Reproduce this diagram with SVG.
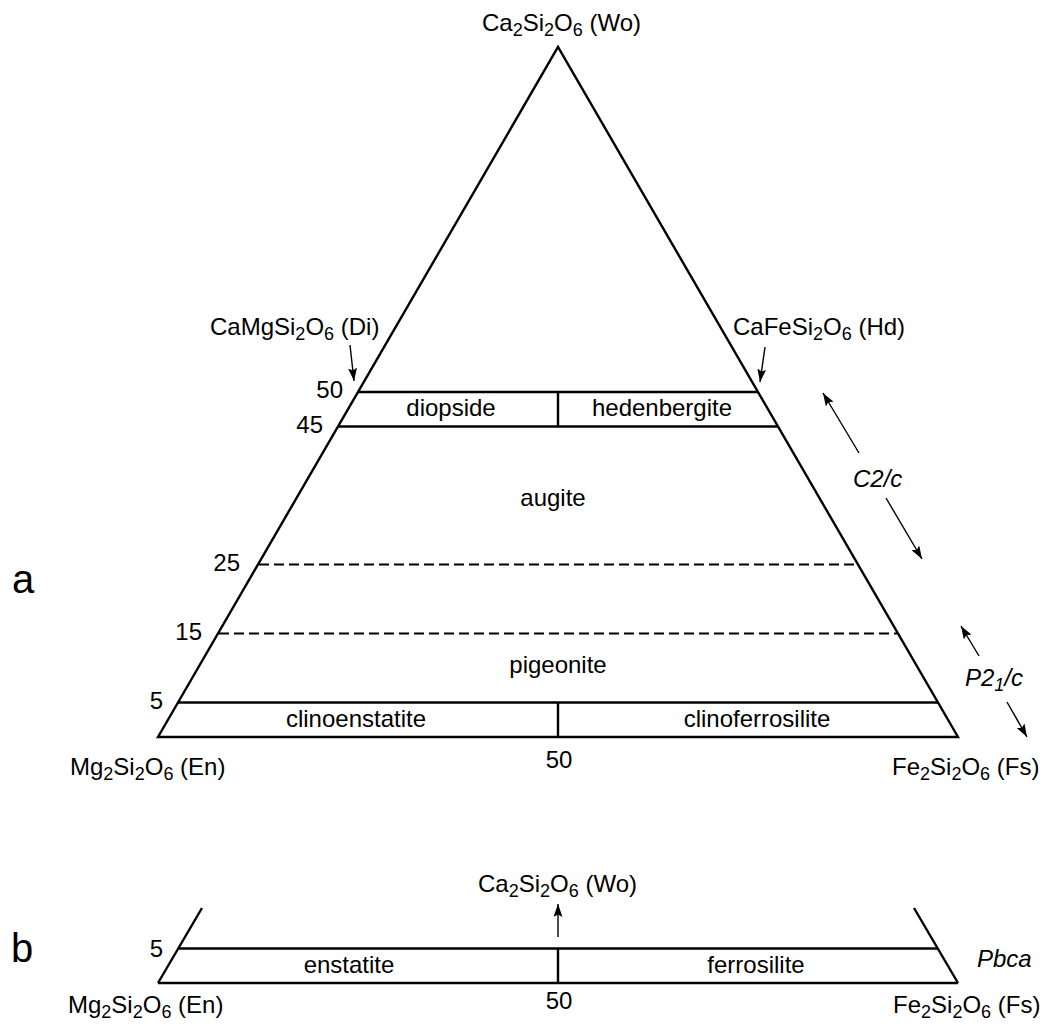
<svg xmlns="http://www.w3.org/2000/svg" width="1044" height="1028" viewBox="0 0 1044 1028">
<style>
text{font-family:"Liberation Sans",Arial,sans-serif;font-size:24px;fill:#000}
.big{font-size:40px}
.it{font-style:italic}
.sub{font-size:18px}
.ln{fill:none;stroke:#000;stroke-width:2.4;stroke-linejoin:miter}
.dash{fill:none;stroke:#000;stroke-width:2.2;stroke-dasharray:10 5}
.arr{fill:none;stroke:#000;stroke-width:1.4;marker-end:url(#ah)}
</style>
<defs>
<marker id="ah" markerUnits="userSpaceOnUse" viewBox="0 0 13 9" refX="13" refY="4.5" markerWidth="13" markerHeight="9" orient="auto">
<path d="M0,0 L13,4.5 L0,9 L2.5,4.5 z" fill="#000"/>
</marker>
</defs>
<rect width="1044" height="1028" fill="#fff"/>

<g id="panel-a">
<path class="ln" d="M158,737 L558,47 L958,737 Z"/>
<line class="ln" x1="358" y1="392" x2="758" y2="392"/>
<line class="ln" x1="338" y1="426.5" x2="778" y2="426.5"/>
<line class="ln" x1="558" y1="392" x2="558" y2="426.5"/>
<line class="dash" x1="259" y1="564.5" x2="857" y2="564.5"/>
<line class="dash" x1="219" y1="633.5" x2="897" y2="633.5"/>
<line class="ln" x1="178" y1="702.5" x2="938" y2="702.5"/>
<line class="ln" x1="558" y1="702.5" x2="558" y2="737"/>
</g>

<g id="labels-a">
<text x="482" y="31">Ca<tspan class="sub" dy="5">2</tspan><tspan dy="-5">Si</tspan><tspan class="sub" dy="5">2</tspan><tspan dy="-5">O</tspan><tspan class="sub" dy="5">6</tspan><tspan dy="-5"> (Wo)</tspan></text>
<text x="210" y="335">CaMgSi<tspan class="sub" dy="5">2</tspan><tspan dy="-5">O</tspan><tspan class="sub" dy="5">6</tspan><tspan dy="-5"> (Di)</tspan></text>
<text x="733" y="335">CaFeSi<tspan class="sub" dy="5">2</tspan><tspan dy="-5">O</tspan><tspan class="sub" dy="5">6</tspan><tspan dy="-5"> (Hd)</tspan></text>
<text x="343" y="398" text-anchor="end">50</text>
<text x="323" y="433" text-anchor="end">45</text>
<text x="240" y="571" text-anchor="end">25</text>
<text x="202" y="640" text-anchor="end">15</text>
<text x="163" y="709" text-anchor="end">5</text>
<text x="451" y="416" text-anchor="middle">diopside</text>
<text x="662" y="416" text-anchor="middle">hedenbergite</text>
<text x="553" y="506" text-anchor="middle">augite</text>
<text x="558" y="673" text-anchor="middle">pigeonite</text>
<text x="356" y="727" text-anchor="middle">clinoenstatite</text>
<text x="757" y="727" text-anchor="middle">clinoferrosilite</text>
<text x="559" y="768" text-anchor="middle">50</text>
<text x="70" y="775">Mg<tspan class="sub" dy="5">2</tspan><tspan dy="-5">Si</tspan><tspan class="sub" dy="5">2</tspan><tspan dy="-5">O</tspan><tspan class="sub" dy="5">6</tspan><tspan dy="-5"> (En)</tspan></text>
<text x="892" y="775">Fe<tspan class="sub" dy="5">2</tspan><tspan dy="-5">Si</tspan><tspan class="sub" dy="5">2</tspan><tspan dy="-5">O</tspan><tspan class="sub" dy="5">6</tspan><tspan dy="-5"> (Fs)</tspan></text>
<text class="it" x="853" y="487">C2/c</text>
<text class="it" x="965" y="686">P2<tspan class="sub" dy="5">1</tspan><tspan dy="-5">/c</tspan></text>
<text class="big" x="12" y="593">a</text>
</g>

<g id="panel-b">
<line class="ln" x1="158" y1="983" x2="202" y2="908"/>
<line class="ln" x1="958" y1="983" x2="914" y2="908"/>
<line class="ln" x1="158" y1="983" x2="958" y2="983"/>
<line class="ln" x1="178" y1="948.5" x2="938" y2="948.5"/>
<line class="ln" x1="558" y1="948.5" x2="558" y2="983"/>
</g>

<g id="labels-b">
<text x="478" y="892">Ca<tspan class="sub" dy="5">2</tspan><tspan dy="-5">Si</tspan><tspan class="sub" dy="5">2</tspan><tspan dy="-5">O</tspan><tspan class="sub" dy="5">6</tspan><tspan dy="-5"> (Wo)</tspan></text>
<text x="163" y="957" text-anchor="end">5</text>
<text x="349" y="973" text-anchor="middle">enstatite</text>
<text x="756" y="973" text-anchor="middle">ferrosilite</text>
<text class="it" x="977" y="967">Pbca</text>
<text x="559" y="1009" text-anchor="middle">50</text>
<text x="68" y="1013">Mg<tspan class="sub" dy="5">2</tspan><tspan dy="-5">Si</tspan><tspan class="sub" dy="5">2</tspan><tspan dy="-5">O</tspan><tspan class="sub" dy="5">6</tspan><tspan dy="-5"> (En)</tspan></text>
<text x="893" y="1013">Fe<tspan class="sub" dy="5">2</tspan><tspan dy="-5">Si</tspan><tspan class="sub" dy="5">2</tspan><tspan dy="-5">O</tspan><tspan class="sub" dy="5">6</tspan><tspan dy="-5"> (Fs)</tspan></text>
<text class="big" x="11" y="962">b</text>
</g>

<g id="connectors">
<line class="arr" x1="350" y1="345" x2="354" y2="381"/>
<line class="arr" x1="765" y1="347" x2="760" y2="382"/>
<line class="arr" x1="859" y1="453" x2="823" y2="393"/>
<line class="arr" x1="886" y1="498" x2="922" y2="559"/>
<line class="arr" x1="979" y1="656" x2="961" y2="626"/>
<line class="arr" x1="1007" y1="702" x2="1027" y2="737"/>
<line class="arr" x1="558" y1="937" x2="558" y2="904"/>
</g>
</svg>
